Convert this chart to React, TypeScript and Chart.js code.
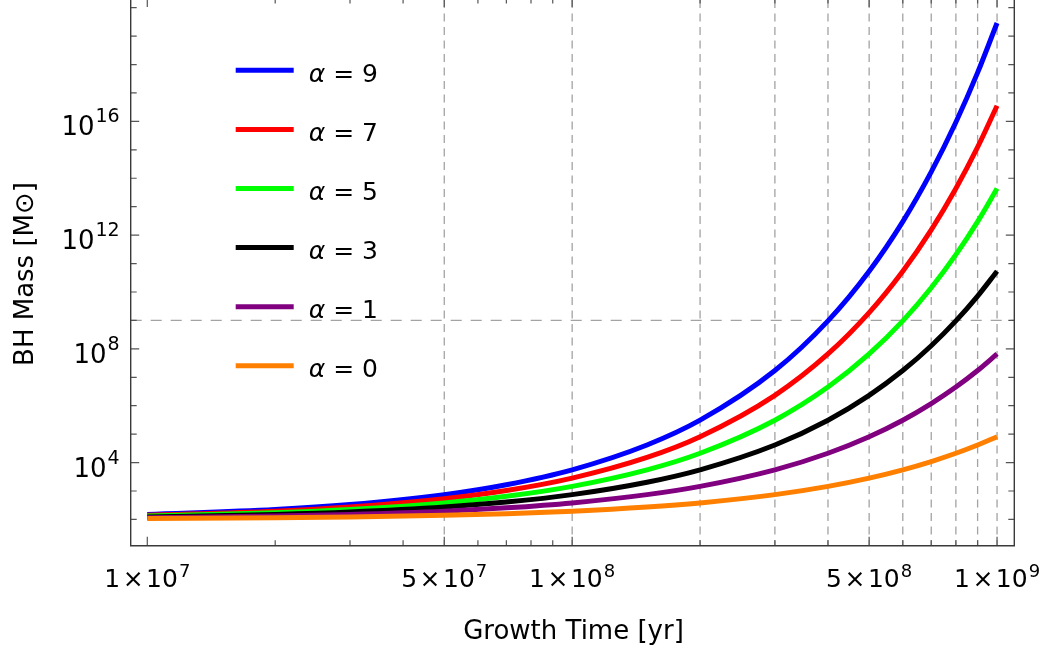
import React, { useEffect, useRef } from 'react';
import { Chart, registerables } from 'chart.js';

Chart.register(...registerables);

// ---- data ----
const TIMES = [1e7, 2e7, 3e7, 5e7, 7e7, 1e8, 1.5e8, 2e8, 3e8, 4e8, 5e8, 6e8, 7e8, 8e8, 9e8, 1e9];

const MASS_A9 = [1.5e2, 2.23e2, 3.34e2, 7.46e2, 1.67e3, 5.57e3, 4.16e4, 3.1e5, 1.73e7, 9.64e8, 5.37e10, 2.99e12, 1.67e14, 9.29e15, 5.18e17, 2.88e19];
const MASS_A7 = [1.4e2, 1.95e2, 2.73e2, 5.34e2, 1.04e3, 2.85e3, 1.52e4, 8.13e4, 2.32e6, 6.61e7, 1.88e9, 5.37e10, 1.53e12, 4.37e13, 1.24e15, 3.55e16];
const MASS_A5 = [1.31e2, 1.71e2, 2.23e2, 3.82e2, 6.53e2, 1.46e3, 5.57e3, 2.13e4, 3.1e5, 4.53e6, 6.61e7, 9.64e8, 1.41e10, 2.05e11, 2.99e12, 4.37e13];
const MASS_A3 = [1.22e2, 1.5e2, 1.83e2, 2.73e2, 4.08e2, 7.46e2, 2.04e3, 5.57e3, 4.16e4, 3.1e5, 2.32e6, 1.73e7, 1.29e8, 9.64e8, 7.19e9, 5.37e10];
const MASS_A1 = [1.14e2, 1.31e2, 1.5e2, 1.95e2, 2.56e2, 3.82e2, 7.46e2, 1.46e3, 5.57e3, 2.13e4, 8.13e4, 3.1e5, 1.19e6, 4.53e6, 1.73e7, 6.61e7];
const MASS_A0 = [1.07e2, 1.14e2, 1.22e2, 1.4e2, 1.6e2, 1.95e2, 2.73e2, 3.82e2, 7.46e2, 1.46e3, 2.85e3, 5.57e3, 1.09e4, 2.13e4, 4.16e4, 8.13e4];

const SERIES = [MASS_A9, MASS_A7, MASS_A5, MASS_A3, MASS_A1, MASS_A0];
const SERIES_ALPHA = ['9', '7', '5', '3', '1', '0'];
const SERIES_COLORS = ['#0000ff', '#ff0000', '#00ff00', '#000000', '#800080', '#ff8000'];

// axis ticks / grid
const X_MIN = 9.14e6;
const X_MAX = 1.098e9;
const Y_MIN = 11.83;
const Y_MAX = 1.86e20;

const X_LABEL_TICKS = [1e7, 5e7, 1e8, 5e8, 1e9];
const X_LABEL_MANT = ['1', '5', '1', '5', '1'];
const X_LABEL_EXP = ['7', '7', '8', '8', '9'];
const X_MINOR_TICKS = [2e7, 3e7, 4e7, 6e7, 7e7, 8e7, 9e7, 2e8, 3e8, 4e8, 6e8, 7e8, 8e8, 9e8];
const X_GRID = [5e7, 1e8, 2e8, 3e8, 4e8, 5e8, 6e8, 7e8, 8e8, 9e8, 1e9];

const Y_LABEL_TICKS = [1e4, 1e8, 1e12, 1e16];
const Y_LABEL_EXP = ['4', '8', '12', '16'];
const Y_MINOR_TICKS = [1e2, 1e3, 1e5, 1e6, 1e7, 1e9, 1e10, 1e11, 1e13, 1e14, 1e15, 1e17, 1e18, 1e19, 1e20];
const Y_GRID = [1e9];

const X_TITLE = 'Growth Time [yr]';
const Y_TITLE = 'BH Mass [M\u2299]';

const FONT = "'DejaVu Sans', 'Noto Sans', sans-serif";

const mmaPlugin = {
  id: 'mmaFrame',
  beforeDatasetsDraw(chart: any) {
    const { ctx, chartArea: a, scales } = chart;
    const xs = scales.x;
    const ys = scales.y;
    ctx.save();
    ctx.strokeStyle = '#a3a3a3';
    ctx.lineWidth = 1.3;
    ctx.setLineDash([8, 5.5]);
    X_GRID.forEach((v) => {
      const px = xs.getPixelForValue(v);
      ctx.beginPath();
      ctx.moveTo(px, a.top);
      ctx.lineTo(px, a.bottom);
      ctx.stroke();
    });
    ctx.setLineDash([11, 9]);
    Y_GRID.forEach((v) => {
      const py = ys.getPixelForValue(v);
      ctx.beginPath();
      ctx.moveTo(a.left, py);
      ctx.lineTo(a.right, py);
      ctx.stroke();
    });
    ctx.restore();
  },
  afterDatasetsDraw(chart: any) {
    const { ctx, chartArea: a, scales } = chart;
    const xs = scales.x;
    const ys = scales.y;
    ctx.save();
    ctx.setLineDash([]);

    // ticks
    ctx.strokeStyle = '#555555';
    ctx.lineWidth = 1.2;
    const vTick = (v: number, len: number) => {
      const px = xs.getPixelForValue(v);
      ctx.beginPath();
      ctx.moveTo(px, a.bottom);
      ctx.lineTo(px, a.bottom - len);
      ctx.moveTo(px, a.top);
      ctx.lineTo(px, a.top + len - 2);
      ctx.stroke();
    };
    X_LABEL_TICKS.forEach((v) => vTick(v, 9));
    X_MINOR_TICKS.forEach((v) => vTick(v, 5.5));
    const hTick = (v: number, len: number) => {
      const py = ys.getPixelForValue(v);
      ctx.beginPath();
      ctx.moveTo(a.left, py);
      ctx.lineTo(a.left + len, py);
      ctx.moveTo(a.right, py);
      ctx.lineTo(a.right - len, py);
      ctx.stroke();
    };
    Y_LABEL_TICKS.forEach((v) => hTick(v, 8.5));
    Y_MINOR_TICKS.forEach((v) => hTick(v, 6));

    // frame (top edge lies just above the visible page)
    ctx.strokeStyle = '#3a3a3a';
    ctx.lineWidth = 1.4;
    ctx.beginPath();
    ctx.moveTo(a.left, a.top - 3);
    ctx.lineTo(a.left, a.bottom);
    ctx.lineTo(a.right, a.bottom);
    ctx.lineTo(a.right, a.top - 3);
    ctx.stroke();

    // x tick labels
    ctx.fillStyle = '#000000';
    ctx.textBaseline = 'alphabetic';
    ctx.textAlign = 'left';
    const baseFontX = `25px ${FONT}`;
    const supFontX = `18px ${FONT}`;
    X_LABEL_TICKS.forEach((v, i) => {
      const px = xs.getPixelForValue(v);
      const base = `${X_LABEL_MANT[i]}\u200a\u00d7\u200a10`;
      ctx.font = baseFontX;
      const bw = ctx.measureText(base).width;
      ctx.font = supFontX;
      const sw = ctx.measureText(X_LABEL_EXP[i]).width;
      const x0 = px - (bw + sw + 1) / 2;
      ctx.font = baseFontX;
      ctx.fillText(base, x0, a.bottom + 41);
      ctx.font = supFontX;
      ctx.fillText(X_LABEL_EXP[i], x0 + bw + 1, a.bottom + 31);
    });

    // y tick labels
    const baseFontY = `26px ${FONT}`;
    const supFontY = `19px ${FONT}`;
    Y_LABEL_TICKS.forEach((v, i) => {
      const py = ys.getPixelForValue(v);
      ctx.font = supFontY;
      const sw = ctx.measureText(Y_LABEL_EXP[i]).width;
      ctx.font = baseFontY;
      const bw = ctx.measureText('10').width;
      const right = a.left - 11;
      const x0 = right - sw - bw - 1;
      ctx.fillText('10', x0, py + 14);
      ctx.font = supFontY;
      ctx.fillText(Y_LABEL_EXP[i], x0 + bw + 1, py + 1);
    });

    // axis titles
    ctx.font = `26px ${FONT}`;
    ctx.textAlign = 'center';
    ctx.fillText(X_TITLE, (a.left + a.right) / 2 + 1, a.bottom + 93.5);
    ctx.save();
    ctx.translate(33, 274);
    ctx.rotate(-Math.PI / 2);
    ctx.fillText(Y_TITLE, 0, 0);
    ctx.restore();

    // legend
    ctx.textAlign = 'left';
    SERIES_ALPHA.forEach((al, i) => {
      const ly = a.top + 70.3 + i * 59.1;
      const lx = a.left + 105;
      ctx.strokeStyle = SERIES_COLORS[i];
      ctx.lineWidth = 5;
      ctx.beginPath();
      ctx.moveTo(lx, ly);
      ctx.lineTo(lx + 58, ly);
      ctx.stroke();
      ctx.fillStyle = '#000000';
      ctx.font = `italic 25px ${FONT}`;
      const tx = lx + 73;
      ctx.fillText('\u03b1', tx, ly + 11.4);
      const aw = ctx.measureText('\u03b1').width;
      ctx.font = `25px ${FONT}`;
      ctx.fillText(` = ${al}`, tx + aw, ly + 11.4);
    });

    ctx.restore();
  },
};

export default function App() {
  const canvasRef = useRef<HTMLCanvasElement | null>(null);

  useEffect(() => {
    const canvas = canvasRef.current;
    if (!canvas) return;
    const datasets = SERIES.map((vals, i) => ({
      label: `\u03b1 = ${SERIES_ALPHA[i]}`,
      data: TIMES.map((t, j) => ({ x: t, y: vals[j] })),
      borderColor: SERIES_COLORS[i],
      backgroundColor: SERIES_COLORS[i],
      borderWidth: 5,
      pointRadius: 0,
      fill: false,
      cubicInterpolationMode: 'monotone' as const,
      order: SERIES.length - 1 - i,
    }));
    const chart = new Chart(canvas, {
      type: 'line',
      data: { datasets },
      options: {
        animation: false,
        responsive: false,
        devicePixelRatio: 1,
        layout: { padding: { left: 130.7, right: 31.7, top: 0, bottom: 108.2 } },
        plugins: { legend: { display: false }, tooltip: { enabled: false } },
        scales: {
          x: { type: 'logarithmic', min: X_MIN, max: X_MAX, display: false },
          y: { type: 'logarithmic', min: Y_MIN, max: Y_MAX, display: false },
        },
      },
      plugins: [mmaPlugin],
    });
    return () => chart.destroy();
  }, []);

  return (
    <div style={{ position: 'absolute', left: 0, top: 0, width: 1046, height: 654, background: '#ffffff' }}>
      <canvas ref={canvasRef} width={1046} height={654} style={{ display: 'block' }} />
    </div>
  );
}
